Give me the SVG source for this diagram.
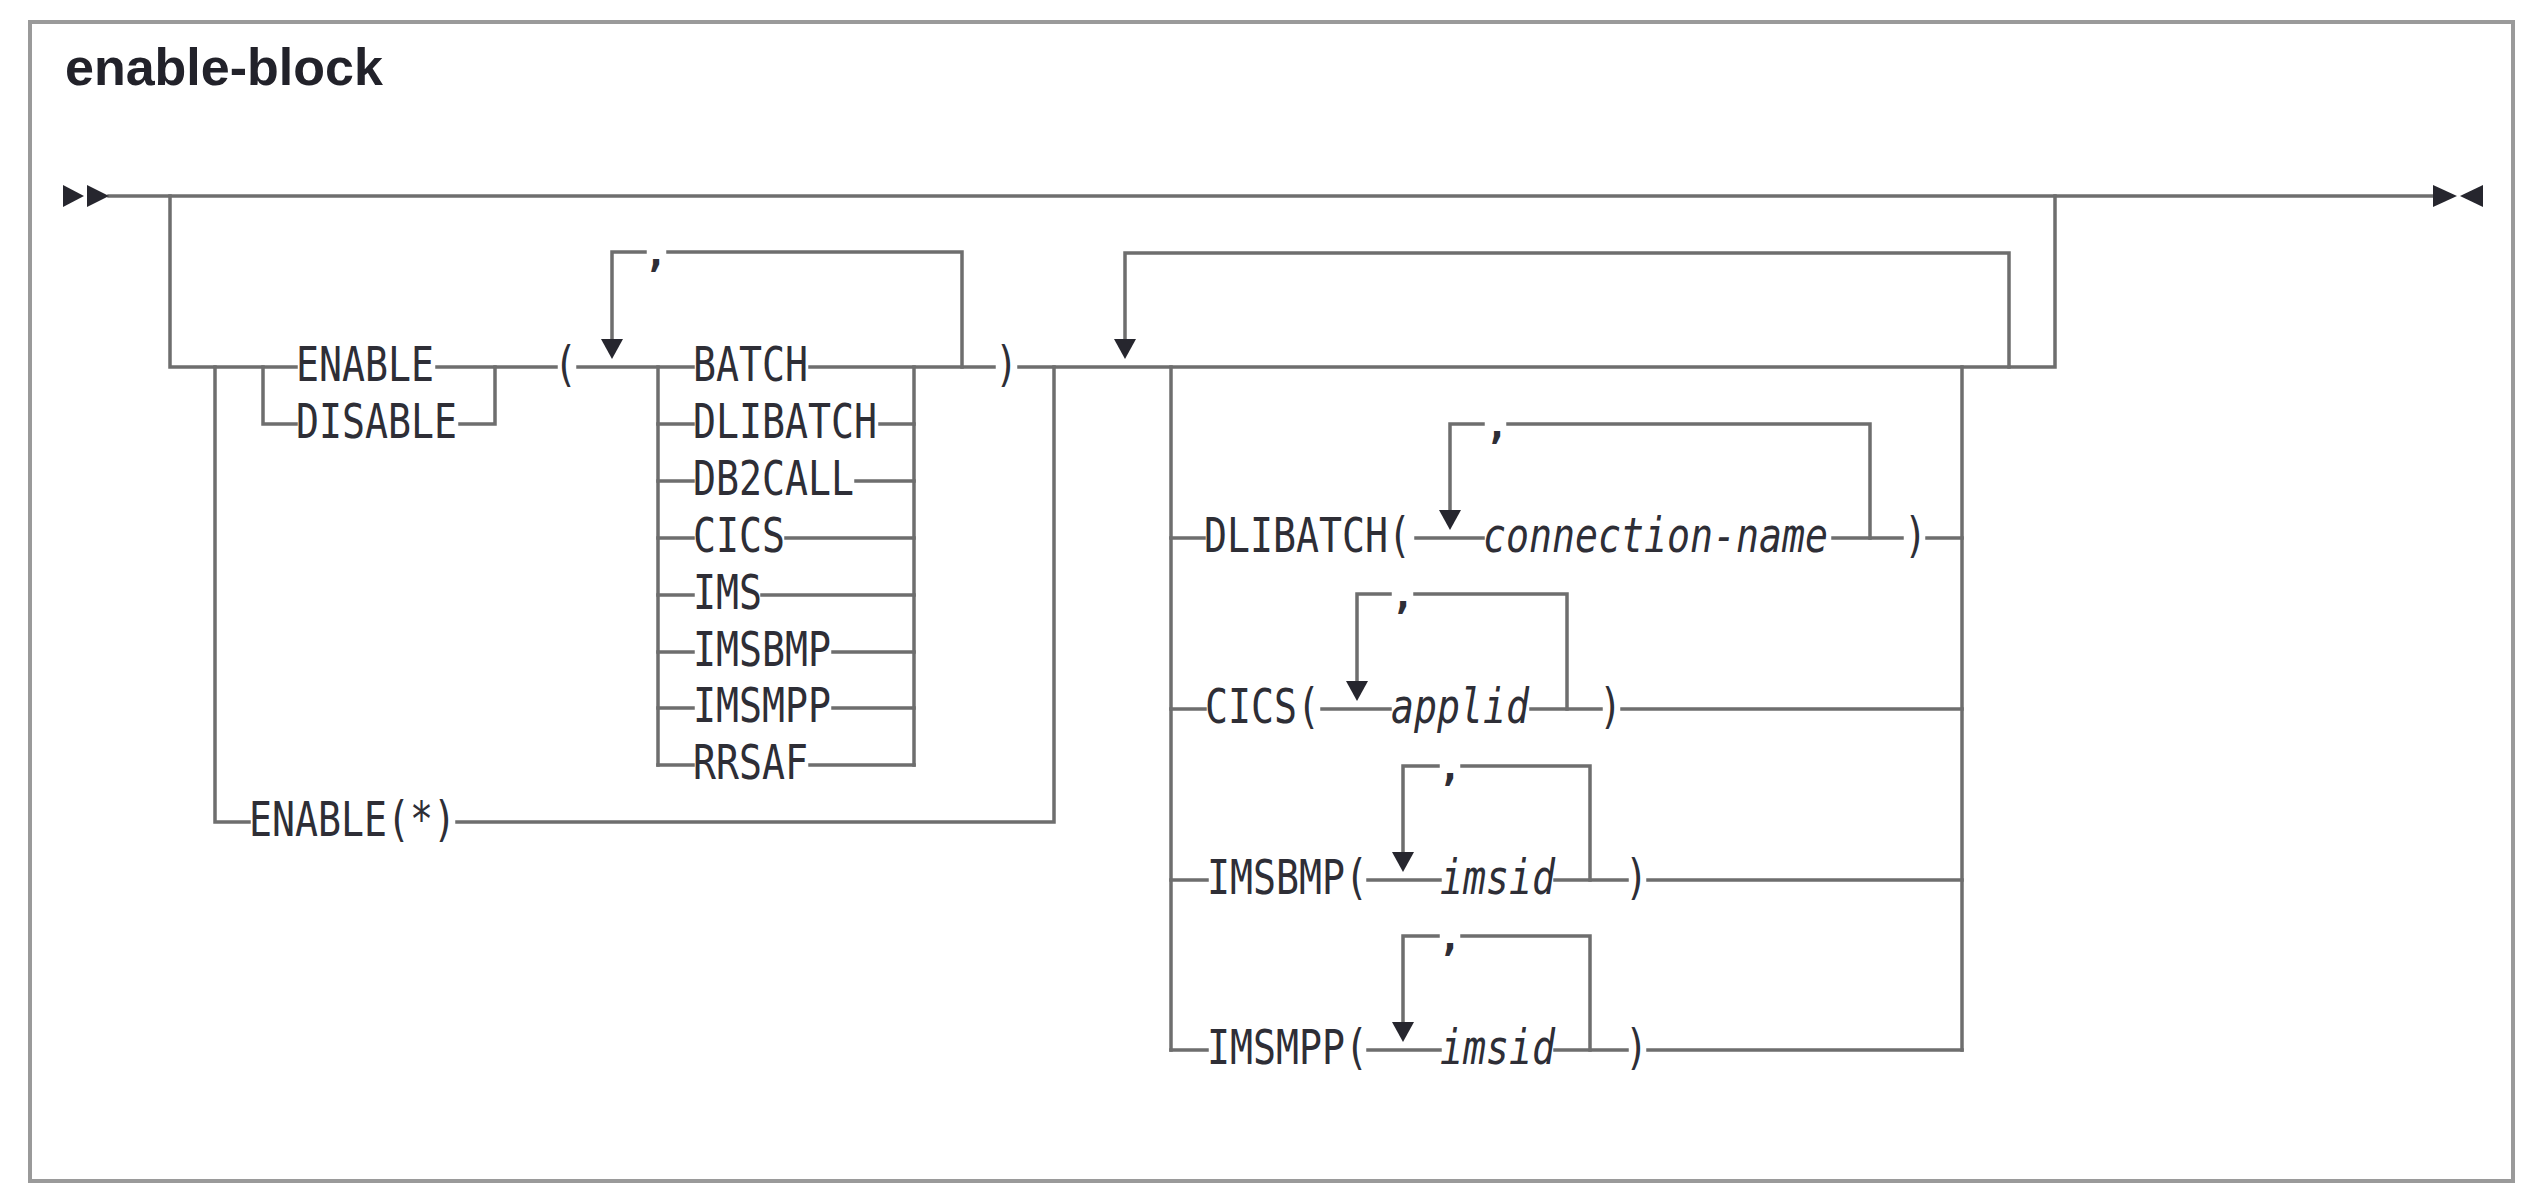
<svg xmlns="http://www.w3.org/2000/svg" width="2535" height="1183" viewBox="0 0 2535 1183">
<style>
.ln{stroke:#6e6e6e;stroke-width:3.5;fill:none;stroke-linecap:square}
.t{font-family:"DejaVu Sans Mono","Liberation Mono",monospace;font-size:38.2px;fill:#2e2e36}
.i{font-style:italic}
.c{font-family:"DejaVu Sans Mono","Liberation Mono",monospace;font-size:40px;fill:#2e2e36;text-anchor:middle;font-weight:bold}
.arr{fill:#26262e}
.title{font-family:"Liberation Sans",Arial,sans-serif;font-weight:bold;font-size:52px;fill:#22222a}
</style>
<defs>
<polygon id="dn" points="-11,0 11,0 0,20" class="arr"/>
</defs>
<rect x="30" y="22" width="2483" height="1159" fill="#ffffff" stroke="#9a9a9a" stroke-width="4"/>
<text class="title" x="65" y="85">enable-block</text>

<g id="connectors">
<path class="ln" d="M109,196 H2433"/>
<path class="ln" d="M170,196 V367 H296"/>
<path class="ln" d="M437,367 H556"/>
<path class="ln" d="M578,367 H693"/>
<path class="ln" d="M810,367 H994"/>
<path class="ln" d="M1019,367 H2055 V196"/>
<path class="ln" d="M215,367 V822 H249"/>
<path class="ln" d="M457,822 H1054 V367"/>
<path class="ln" d="M263,367 V424 H296"/>
<path class="ln" d="M460,424 H495 V367"/>
<path class="ln" d="M658,367 V765"/>
<path class="ln" d="M914,367 V765"/>
<path class="ln" d="M658,424 H693 M880,424 H914"/>
<path class="ln" d="M658,481 H693 M856,481 H914"/>
<path class="ln" d="M658,538 H693 M786,538 H914"/>
<path class="ln" d="M658,595 H693 M762,595 H914"/>
<path class="ln" d="M658,652 H693 M833,652 H914"/>
<path class="ln" d="M658,708 H693 M833,708 H914"/>
<path class="ln" d="M658,765 H693 M810,765 H914"/>
<path class="ln" d="M612,339 V252 H645 M668,252 H962 V367"/>
<path class="ln" d="M1125,339 V253 H2009 V367"/>
<path class="ln" d="M1171,367 V1050"/>
<path class="ln" d="M1962,367 V1050"/>
<path class="ln" d="M1171,538 H1204 M1416,538 H1483 M1833,538 H1902 M1927,538 H1962"/>
<path class="ln" d="M1450,510 V424 H1483 M1508,424 H1870 V538"/>
<path class="ln" d="M1171,709 H1205 M1322,709 H1390 M1531,709 H1601 M1622,709 H1962"/>
<path class="ln" d="M1357,681 V594 H1390 M1415,594 H1567 V709"/>
<path class="ln" d="M1171,880 H1207 M1368,880 H1440 M1555,880 H1627 M1648,880 H1962"/>
<path class="ln" d="M1403,852 V766 H1438 M1462,766 H1590 V880"/>
<path class="ln" d="M1171,1050 H1207 M1368,1050 H1440 M1555,1050 H1627 M1648,1050 H1962"/>
<path class="ln" d="M1403,1022 V936 H1438 M1462,936 H1590 V1050"/>
<use href="#dn" x="612" y="339"/>
<use href="#dn" x="1125" y="339"/>
<use href="#dn" x="1450" y="510"/>
<use href="#dn" x="1357" y="681"/>
<use href="#dn" x="1403" y="852"/>
<use href="#dn" x="1403" y="1022"/>
<polygon class="arr" points="63,185 84,196 63,207"/>
<polygon class="arr" points="87,185 109,196 87,207"/>
<polygon class="arr" points="2433,185 2457,196 2433,207"/>
<polygon class="arr" points="2483,185 2460,196 2483,207"/>
</g>

<g id="node-enable"><text class="t" transform="translate(296,381) scale(1,1.26)">ENABLE</text></g>
<g id="node-disable"><text class="t" transform="translate(296,438) scale(1,1.26)">DISABLE</text></g>
<g id="node-lparen"><text class="t" transform="translate(554,381) scale(1,1.26)">(</text></g>
<g id="node-comma1"><text class="c" x="656" y="266">,</text></g>
<g id="node-batch"><text class="t" transform="translate(693,381) scale(1,1.26)">BATCH</text></g>
<g id="node-dlibatch"><text class="t" transform="translate(693,438) scale(1,1.26)">DLIBATCH</text></g>
<g id="node-db2call"><text class="t" transform="translate(693,495) scale(1,1.26)">DB2CALL</text></g>
<g id="node-cics"><text class="t" transform="translate(693,552) scale(1,1.26)">CICS</text></g>
<g id="node-ims"><text class="t" transform="translate(693,609) scale(1,1.26)">IMS</text></g>
<g id="node-imsbmp"><text class="t" transform="translate(693,666) scale(1,1.26)">IMSBMP</text></g>
<g id="node-imsmpp"><text class="t" transform="translate(693,722) scale(1,1.26)">IMSMPP</text></g>
<g id="node-rrsaf"><text class="t" transform="translate(693,779) scale(1,1.26)">RRSAF</text></g>
<g id="node-rparen"><text class="t" transform="translate(995,381) scale(1,1.26)">)</text></g>
<g id="node-enable-star"><text class="t" transform="translate(249,836) scale(1,1.26)">ENABLE(*)</text></g>

<g id="node-dlibatch-conn">
<text class="t" transform="translate(1204,552) scale(1,1.26)">DLIBATCH(</text>
<text class="c" x="1497" y="438">,</text>
<text class="t i" transform="translate(1483,552) scale(1,1.26)">connection-name</text>
<text class="t" transform="translate(1904,552) scale(1,1.26)">)</text>
</g>
<g id="node-cics-applid">
<text class="t" transform="translate(1205,723) scale(1,1.26)">CICS(</text>
<text class="c" x="1403" y="608">,</text>
<text class="t i" transform="translate(1391,723) scale(1,1.26)">applid</text>
<text class="t" transform="translate(1599,723) scale(1,1.26)">)</text>
</g>
<g id="node-imsbmp-imsid">
<text class="t" transform="translate(1207,894) scale(1,1.26)">IMSBMP(</text>
<text class="c" x="1450" y="780">,</text>
<text class="t i" transform="translate(1440,894) scale(1,1.26)">imsid</text>
<text class="t" transform="translate(1625,894) scale(1,1.26)">)</text>
</g>
<g id="node-imsmpp-imsid">
<text class="t" transform="translate(1207,1064) scale(1,1.26)">IMSMPP(</text>
<text class="c" x="1450" y="950">,</text>
<text class="t i" transform="translate(1440,1064) scale(1,1.26)">imsid</text>
<text class="t" transform="translate(1625,1064) scale(1,1.26)">)</text>
</g>
</svg>
